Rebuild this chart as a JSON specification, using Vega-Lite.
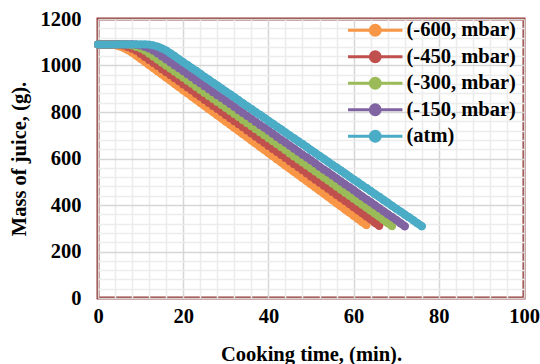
{
"$schema": "https://vega.github.io/schema/vega-lite/v6.json",
"width": 426, "height": 279,
"autosize": {"type": "none"},
"padding": {"left": 98, "top": 19, "right": 16, "bottom": 66},
"background": "white",
"config": {
  "font": "Liberation Serif",
  "view": {"stroke": "#953735", "strokeWidth": 3},
  "axis": {"labelFont": "Liberation Serif", "labelFontSize": 20.5, "labelFontWeight": "bold", "labelColor": "#000", "titleFont": "Liberation Serif", "titleFontSize": 20.5, "titleFontWeight": "bold", "titleColor": "#000", "ticks": false, "domain": false, "labelOverlap": false, "labelBound": false, "labelFlush": false},
  "legend": {"labelFont": "Liberation Serif", "labelFontSize": 20.5, "labelFontWeight": "bold", "labelColor": "#000"}
},
"datasets": {"d": [
{"s":"(-600, mbar)","t":0,"m":1090},{"s":"(-600, mbar)","t":1,"m":1090},{"s":"(-600, mbar)","t":2,"m":1090},{"s":"(-600, mbar)","t":3,"m":1090},{"s":"(-600, mbar)","t":4,"m":1088},{"s":"(-600, mbar)","t":5,"m":1083},{"s":"(-600, mbar)","t":6,"m":1076},{"s":"(-600, mbar)","t":7,"m":1067},{"s":"(-600, mbar)","t":8,"m":1056},{"s":"(-600, mbar)","t":9,"m":1043},{"s":"(-600, mbar)","t":10,"m":1029},{"s":"(-600, mbar)","t":11,"m":1016},{"s":"(-600, mbar)","t":12,"m":1002},{"s":"(-600, mbar)","t":13,"m":989},{"s":"(-600, mbar)","t":14,"m":975},{"s":"(-600, mbar)","t":15,"m":962},{"s":"(-600, mbar)","t":16,"m":948},{"s":"(-600, mbar)","t":17,"m":935},{"s":"(-600, mbar)","t":18,"m":921},{"s":"(-600, mbar)","t":19,"m":908},{"s":"(-600, mbar)","t":20,"m":894},{"s":"(-600, mbar)","t":21,"m":881},{"s":"(-600, mbar)","t":22,"m":867},{"s":"(-600, mbar)","t":23,"m":854},{"s":"(-600, mbar)","t":24,"m":840},{"s":"(-600, mbar)","t":25,"m":827},{"s":"(-600, mbar)","t":26,"m":813},{"s":"(-600, mbar)","t":27,"m":800},{"s":"(-600, mbar)","t":28,"m":786},{"s":"(-600, mbar)","t":29,"m":773},{"s":"(-600, mbar)","t":30,"m":759},{"s":"(-600, mbar)","t":31,"m":746},{"s":"(-600, mbar)","t":32,"m":732},{"s":"(-600, mbar)","t":33,"m":719},{"s":"(-600, mbar)","t":34,"m":705},{"s":"(-600, mbar)","t":35,"m":692},{"s":"(-600, mbar)","t":36,"m":678},{"s":"(-600, mbar)","t":37,"m":665},{"s":"(-600, mbar)","t":38,"m":651},{"s":"(-600, mbar)","t":39,"m":638},{"s":"(-600, mbar)","t":40,"m":624},{"s":"(-600, mbar)","t":41,"m":611},{"s":"(-600, mbar)","t":42,"m":597},{"s":"(-600, mbar)","t":43,"m":584},{"s":"(-600, mbar)","t":44,"m":570},{"s":"(-600, mbar)","t":45,"m":557},{"s":"(-600, mbar)","t":46,"m":543},{"s":"(-600, mbar)","t":47,"m":530},{"s":"(-600, mbar)","t":48,"m":516},{"s":"(-600, mbar)","t":49,"m":503},{"s":"(-600, mbar)","t":50,"m":489},{"s":"(-600, mbar)","t":51,"m":476},{"s":"(-600, mbar)","t":52,"m":462},{"s":"(-600, mbar)","t":53,"m":449},{"s":"(-600, mbar)","t":54,"m":435},{"s":"(-600, mbar)","t":55,"m":422},{"s":"(-600, mbar)","t":56,"m":408},{"s":"(-600, mbar)","t":57,"m":395},{"s":"(-600, mbar)","t":58,"m":381},{"s":"(-600, mbar)","t":59,"m":368},{"s":"(-600, mbar)","t":60,"m":354},{"s":"(-600, mbar)","t":61,"m":341},{"s":"(-600, mbar)","t":62,"m":327},{"s":"(-600, mbar)","t":63,"m":314},
{"s":"(-450, mbar)","t":0,"m":1090},{"s":"(-450, mbar)","t":1,"m":1090},{"s":"(-450, mbar)","t":2,"m":1090},{"s":"(-450, mbar)","t":3,"m":1090},{"s":"(-450, mbar)","t":4,"m":1090},{"s":"(-450, mbar)","t":5,"m":1089},{"s":"(-450, mbar)","t":6,"m":1086},{"s":"(-450, mbar)","t":7,"m":1080},{"s":"(-450, mbar)","t":8,"m":1072},{"s":"(-450, mbar)","t":9,"m":1063},{"s":"(-450, mbar)","t":10,"m":1050},{"s":"(-450, mbar)","t":11,"m":1037},{"s":"(-450, mbar)","t":12,"m":1024},{"s":"(-450, mbar)","t":13,"m":1011},{"s":"(-450, mbar)","t":14,"m":998},{"s":"(-450, mbar)","t":15,"m":984},{"s":"(-450, mbar)","t":16,"m":971},{"s":"(-450, mbar)","t":17,"m":958},{"s":"(-450, mbar)","t":18,"m":945},{"s":"(-450, mbar)","t":19,"m":932},{"s":"(-450, mbar)","t":20,"m":918},{"s":"(-450, mbar)","t":21,"m":905},{"s":"(-450, mbar)","t":22,"m":892},{"s":"(-450, mbar)","t":23,"m":879},{"s":"(-450, mbar)","t":24,"m":866},{"s":"(-450, mbar)","t":25,"m":852},{"s":"(-450, mbar)","t":26,"m":839},{"s":"(-450, mbar)","t":27,"m":826},{"s":"(-450, mbar)","t":28,"m":813},{"s":"(-450, mbar)","t":29,"m":800},{"s":"(-450, mbar)","t":30,"m":786},{"s":"(-450, mbar)","t":31,"m":773},{"s":"(-450, mbar)","t":32,"m":760},{"s":"(-450, mbar)","t":33,"m":747},{"s":"(-450, mbar)","t":34,"m":734},{"s":"(-450, mbar)","t":35,"m":720},{"s":"(-450, mbar)","t":36,"m":707},{"s":"(-450, mbar)","t":37,"m":694},{"s":"(-450, mbar)","t":38,"m":681},{"s":"(-450, mbar)","t":39,"m":668},{"s":"(-450, mbar)","t":40,"m":654},{"s":"(-450, mbar)","t":41,"m":641},{"s":"(-450, mbar)","t":42,"m":628},{"s":"(-450, mbar)","t":43,"m":615},{"s":"(-450, mbar)","t":44,"m":602},{"s":"(-450, mbar)","t":45,"m":588},{"s":"(-450, mbar)","t":46,"m":575},{"s":"(-450, mbar)","t":47,"m":562},{"s":"(-450, mbar)","t":48,"m":549},{"s":"(-450, mbar)","t":49,"m":536},{"s":"(-450, mbar)","t":50,"m":522},{"s":"(-450, mbar)","t":51,"m":509},{"s":"(-450, mbar)","t":52,"m":496},{"s":"(-450, mbar)","t":53,"m":483},{"s":"(-450, mbar)","t":54,"m":470},{"s":"(-450, mbar)","t":55,"m":456},{"s":"(-450, mbar)","t":56,"m":443},{"s":"(-450, mbar)","t":57,"m":430},{"s":"(-450, mbar)","t":58,"m":417},{"s":"(-450, mbar)","t":59,"m":404},{"s":"(-450, mbar)","t":60,"m":390},{"s":"(-450, mbar)","t":61,"m":377},{"s":"(-450, mbar)","t":62,"m":364},{"s":"(-450, mbar)","t":63,"m":351},{"s":"(-450, mbar)","t":64,"m":338},{"s":"(-450, mbar)","t":65,"m":324},{"s":"(-450, mbar)","t":66,"m":311},
{"s":"(-300, mbar)","t":0,"m":1090},{"s":"(-300, mbar)","t":1,"m":1090},{"s":"(-300, mbar)","t":2,"m":1090},{"s":"(-300, mbar)","t":3,"m":1090},{"s":"(-300, mbar)","t":4,"m":1090},{"s":"(-300, mbar)","t":5,"m":1090},{"s":"(-300, mbar)","t":6,"m":1090},{"s":"(-300, mbar)","t":7,"m":1089},{"s":"(-300, mbar)","t":8,"m":1086},{"s":"(-300, mbar)","t":9,"m":1080},{"s":"(-300, mbar)","t":10,"m":1073},{"s":"(-300, mbar)","t":11,"m":1063},{"s":"(-300, mbar)","t":12,"m":1051},{"s":"(-300, mbar)","t":13,"m":1038},{"s":"(-300, mbar)","t":14,"m":1025},{"s":"(-300, mbar)","t":15,"m":1012},{"s":"(-300, mbar)","t":16,"m":999},{"s":"(-300, mbar)","t":17,"m":986},{"s":"(-300, mbar)","t":18,"m":973},{"s":"(-300, mbar)","t":19,"m":960},{"s":"(-300, mbar)","t":20,"m":947},{"s":"(-300, mbar)","t":21,"m":934},{"s":"(-300, mbar)","t":22,"m":921},{"s":"(-300, mbar)","t":23,"m":908},{"s":"(-300, mbar)","t":24,"m":895},{"s":"(-300, mbar)","t":25,"m":882},{"s":"(-300, mbar)","t":26,"m":869},{"s":"(-300, mbar)","t":27,"m":856},{"s":"(-300, mbar)","t":28,"m":843},{"s":"(-300, mbar)","t":29,"m":830},{"s":"(-300, mbar)","t":30,"m":817},{"s":"(-300, mbar)","t":31,"m":804},{"s":"(-300, mbar)","t":32,"m":791},{"s":"(-300, mbar)","t":33,"m":778},{"s":"(-300, mbar)","t":34,"m":765},{"s":"(-300, mbar)","t":35,"m":752},{"s":"(-300, mbar)","t":36,"m":739},{"s":"(-300, mbar)","t":37,"m":726},{"s":"(-300, mbar)","t":38,"m":713},{"s":"(-300, mbar)","t":39,"m":700},{"s":"(-300, mbar)","t":40,"m":687},{"s":"(-300, mbar)","t":41,"m":674},{"s":"(-300, mbar)","t":42,"m":661},{"s":"(-300, mbar)","t":43,"m":648},{"s":"(-300, mbar)","t":44,"m":635},{"s":"(-300, mbar)","t":45,"m":622},{"s":"(-300, mbar)","t":46,"m":609},{"s":"(-300, mbar)","t":47,"m":596},{"s":"(-300, mbar)","t":48,"m":583},{"s":"(-300, mbar)","t":49,"m":570},{"s":"(-300, mbar)","t":50,"m":557},{"s":"(-300, mbar)","t":51,"m":544},{"s":"(-300, mbar)","t":52,"m":531},{"s":"(-300, mbar)","t":53,"m":518},{"s":"(-300, mbar)","t":54,"m":505},{"s":"(-300, mbar)","t":55,"m":492},{"s":"(-300, mbar)","t":56,"m":479},{"s":"(-300, mbar)","t":57,"m":466},{"s":"(-300, mbar)","t":58,"m":453},{"s":"(-300, mbar)","t":59,"m":440},{"s":"(-300, mbar)","t":60,"m":427},{"s":"(-300, mbar)","t":61,"m":414},{"s":"(-300, mbar)","t":62,"m":401},{"s":"(-300, mbar)","t":63,"m":388},{"s":"(-300, mbar)","t":64,"m":375},{"s":"(-300, mbar)","t":65,"m":362},{"s":"(-300, mbar)","t":66,"m":349},{"s":"(-300, mbar)","t":67,"m":336},{"s":"(-300, mbar)","t":68,"m":323},{"s":"(-300, mbar)","t":69,"m":310},
{"s":"(-150, mbar)","t":0,"m":1090},{"s":"(-150, mbar)","t":1,"m":1090},{"s":"(-150, mbar)","t":2,"m":1090},{"s":"(-150, mbar)","t":3,"m":1090},{"s":"(-150, mbar)","t":4,"m":1090},{"s":"(-150, mbar)","t":5,"m":1090},{"s":"(-150, mbar)","t":6,"m":1090},{"s":"(-150, mbar)","t":7,"m":1090},{"s":"(-150, mbar)","t":8,"m":1090},{"s":"(-150, mbar)","t":9,"m":1089},{"s":"(-150, mbar)","t":10,"m":1086},{"s":"(-150, mbar)","t":11,"m":1080},{"s":"(-150, mbar)","t":12,"m":1073},{"s":"(-150, mbar)","t":13,"m":1063},{"s":"(-150, mbar)","t":14,"m":1052},{"s":"(-150, mbar)","t":15,"m":1039},{"s":"(-150, mbar)","t":16,"m":1026},{"s":"(-150, mbar)","t":17,"m":1013},{"s":"(-150, mbar)","t":18,"m":1000},{"s":"(-150, mbar)","t":19,"m":988},{"s":"(-150, mbar)","t":20,"m":975},{"s":"(-150, mbar)","t":21,"m":962},{"s":"(-150, mbar)","t":22,"m":949},{"s":"(-150, mbar)","t":23,"m":936},{"s":"(-150, mbar)","t":24,"m":924},{"s":"(-150, mbar)","t":25,"m":911},{"s":"(-150, mbar)","t":26,"m":898},{"s":"(-150, mbar)","t":27,"m":885},{"s":"(-150, mbar)","t":28,"m":872},{"s":"(-150, mbar)","t":29,"m":860},{"s":"(-150, mbar)","t":30,"m":847},{"s":"(-150, mbar)","t":31,"m":834},{"s":"(-150, mbar)","t":32,"m":821},{"s":"(-150, mbar)","t":33,"m":808},{"s":"(-150, mbar)","t":34,"m":796},{"s":"(-150, mbar)","t":35,"m":783},{"s":"(-150, mbar)","t":36,"m":770},{"s":"(-150, mbar)","t":37,"m":757},{"s":"(-150, mbar)","t":38,"m":744},{"s":"(-150, mbar)","t":39,"m":732},{"s":"(-150, mbar)","t":40,"m":719},{"s":"(-150, mbar)","t":41,"m":706},{"s":"(-150, mbar)","t":42,"m":693},{"s":"(-150, mbar)","t":43,"m":680},{"s":"(-150, mbar)","t":44,"m":668},{"s":"(-150, mbar)","t":45,"m":655},{"s":"(-150, mbar)","t":46,"m":642},{"s":"(-150, mbar)","t":47,"m":629},{"s":"(-150, mbar)","t":48,"m":616},{"s":"(-150, mbar)","t":49,"m":604},{"s":"(-150, mbar)","t":50,"m":591},{"s":"(-150, mbar)","t":51,"m":578},{"s":"(-150, mbar)","t":52,"m":565},{"s":"(-150, mbar)","t":53,"m":552},{"s":"(-150, mbar)","t":54,"m":540},{"s":"(-150, mbar)","t":55,"m":527},{"s":"(-150, mbar)","t":56,"m":514},{"s":"(-150, mbar)","t":57,"m":501},{"s":"(-150, mbar)","t":58,"m":488},{"s":"(-150, mbar)","t":59,"m":476},{"s":"(-150, mbar)","t":60,"m":463},{"s":"(-150, mbar)","t":61,"m":450},{"s":"(-150, mbar)","t":62,"m":437},{"s":"(-150, mbar)","t":63,"m":424},{"s":"(-150, mbar)","t":64,"m":412},{"s":"(-150, mbar)","t":65,"m":399},{"s":"(-150, mbar)","t":66,"m":386},{"s":"(-150, mbar)","t":67,"m":373},{"s":"(-150, mbar)","t":68,"m":360},{"s":"(-150, mbar)","t":69,"m":348},{"s":"(-150, mbar)","t":70,"m":335},{"s":"(-150, mbar)","t":71,"m":322},{"s":"(-150, mbar)","t":72,"m":309},
{"s":"(atm)","t":0,"m":1090},{"s":"(atm)","t":1,"m":1090},{"s":"(atm)","t":2,"m":1090},{"s":"(atm)","t":3,"m":1090},{"s":"(atm)","t":4,"m":1090},{"s":"(atm)","t":5,"m":1090},{"s":"(atm)","t":6,"m":1090},{"s":"(atm)","t":7,"m":1090},{"s":"(atm)","t":8,"m":1090},{"s":"(atm)","t":9,"m":1090},{"s":"(atm)","t":10,"m":1090},{"s":"(atm)","t":11,"m":1090},{"s":"(atm)","t":12,"m":1089},{"s":"(atm)","t":13,"m":1086},{"s":"(atm)","t":14,"m":1081},{"s":"(atm)","t":15,"m":1073},{"s":"(atm)","t":16,"m":1064},{"s":"(atm)","t":17,"m":1052},{"s":"(atm)","t":18,"m":1040},{"s":"(atm)","t":19,"m":1027},{"s":"(atm)","t":20,"m":1014},{"s":"(atm)","t":21,"m":1002},{"s":"(atm)","t":22,"m":989},{"s":"(atm)","t":23,"m":977},{"s":"(atm)","t":24,"m":964},{"s":"(atm)","t":25,"m":951},{"s":"(atm)","t":26,"m":939},{"s":"(atm)","t":27,"m":926},{"s":"(atm)","t":28,"m":914},{"s":"(atm)","t":29,"m":901},{"s":"(atm)","t":30,"m":888},{"s":"(atm)","t":31,"m":876},{"s":"(atm)","t":32,"m":863},{"s":"(atm)","t":33,"m":851},{"s":"(atm)","t":34,"m":838},{"s":"(atm)","t":35,"m":825},{"s":"(atm)","t":36,"m":813},{"s":"(atm)","t":37,"m":800},{"s":"(atm)","t":38,"m":788},{"s":"(atm)","t":39,"m":775},{"s":"(atm)","t":40,"m":762},{"s":"(atm)","t":41,"m":750},{"s":"(atm)","t":42,"m":737},{"s":"(atm)","t":43,"m":725},{"s":"(atm)","t":44,"m":712},{"s":"(atm)","t":45,"m":699},{"s":"(atm)","t":46,"m":687},{"s":"(atm)","t":47,"m":674},{"s":"(atm)","t":48,"m":662},{"s":"(atm)","t":49,"m":649},{"s":"(atm)","t":50,"m":636},{"s":"(atm)","t":51,"m":624},{"s":"(atm)","t":52,"m":611},{"s":"(atm)","t":53,"m":599},{"s":"(atm)","t":54,"m":586},{"s":"(atm)","t":55,"m":573},{"s":"(atm)","t":56,"m":561},{"s":"(atm)","t":57,"m":548},{"s":"(atm)","t":58,"m":536},{"s":"(atm)","t":59,"m":523},{"s":"(atm)","t":60,"m":510},{"s":"(atm)","t":61,"m":498},{"s":"(atm)","t":62,"m":485},{"s":"(atm)","t":63,"m":473},{"s":"(atm)","t":64,"m":460},{"s":"(atm)","t":65,"m":447},{"s":"(atm)","t":66,"m":435},{"s":"(atm)","t":67,"m":422},{"s":"(atm)","t":68,"m":410},{"s":"(atm)","t":69,"m":397},{"s":"(atm)","t":70,"m":384},{"s":"(atm)","t":71,"m":372},{"s":"(atm)","t":72,"m":359},{"s":"(atm)","t":73,"m":347},{"s":"(atm)","t":74,"m":334},{"s":"(atm)","t":75,"m":321},{"s":"(atm)","t":76,"m":309}
]},
"data": {"name": "d"},
"resolve": {"axis": {"x": "independent", "y": "independent"}},
"layer": [
  {
    "mark": {"type": "line", "strokeWidth": 8, "strokeCap": "round", "strokeJoin": "round"},
    "encoding": {
      "x": {"field": "t", "type": "quantitative", "scale": {"domain": [0, 100], "nice": false},
            "axis": {"orient": "top", "values": [4,8,12,16,24,28,32,36,44,48,52,56,64,68,72,76,84,88,92,96], "labels": false, "grid": true, "gridColor": "#ececec", "gridWidth": 1.5, "title": null}},
      "y": {"field": "m", "type": "quantitative", "scale": {"domain": [0, 1200], "nice": false},
            "axis": {"orient": "right", "values": [40,80,120,160,240,280,320,360,440,480,520,560,640,680,720,760,840,880,920,960,1040,1080,1120,1160], "labels": false, "grid": true, "gridColor": "#ececec", "gridWidth": 1.5, "title": null}},
      "detail": {"field": "s"},
      "color": {"field": "s", "type": "nominal",
        "scale": {"domain": ["(-600, mbar)", "(-450, mbar)", "(-300, mbar)", "(-150, mbar)", "(atm)"], "range": ["#F79646", "#C0504D", "#9BBB59", "#8064A2", "#4BACC6"]},
        "legend": {"orient": "none", "legendX": 267, "legendY": 1, "title": null, "padding": 0,
          "symbolType": "M-3.4,0L3.4,0M0.62,0A0.62,0.62,0,1,1,-0.62,0A0.62,0.62,0,1,1,0.62,0Z",
          "symbolSize": 256, "symbolStrokeWidth": 3,
          "labelFont": "Liberation Serif", "labelFontSize": 20.5, "labelFontWeight": "bold", "labelColor": "#000",
          "labelOffset": 21, "rowPadding": 3.5,
          "encode": {"symbols": {"update": {"stroke": {"field": "value", "scale": "color"}, "fill": {"field": "value", "scale": "color"}, "strokeWidth": {"value": 3}, "opacity": {"value": 1}}}}}
      }
    }
  },
  {
    "mark": {"type": "circle", "size": 64, "opacity": 1},
    "encoding": {
      "x": {"field": "t", "type": "quantitative", "scale": {"domain": [0, 100], "nice": false},
            "axis": {"values": [0,20,40,60,80,100], "format": "d", "grid": true, "gridColor": "#d6d6d6", "gridWidth": 1.5, "labelPadding": 8, "title": "Cooking time, (min).", "titlePadding": 18}},
      "y": {"field": "m", "type": "quantitative", "scale": {"domain": [0, 1200], "nice": false},
            "axis": {"values": [0,200,400,600,800,1000,1200], "format": "d", "grid": true, "gridColor": "#d6d6d6", "gridWidth": 1.5, "labelPadding": 17, "title": "Mass of juice, (g).", "titlePadding": 11}},
      "color": {"field": "s", "type": "nominal",
        "scale": {"domain": ["(-600, mbar)", "(-450, mbar)", "(-300, mbar)", "(-150, mbar)", "(atm)"], "range": ["#F79646", "#C0504D", "#9BBB59", "#8064A2", "#4BACC6"]},
        "legend": {"orient": "none", "legendX": 267, "legendY": 1, "title": null, "padding": 0,
          "symbolType": "M-3.4,0L3.4,0M0.62,0A0.62,0.62,0,1,1,-0.62,0A0.62,0.62,0,1,1,0.62,0Z",
          "symbolSize": 256, "symbolStrokeWidth": 3,
          "labelFont": "Liberation Serif", "labelFontSize": 20.5, "labelFontWeight": "bold", "labelColor": "#000",
          "labelOffset": 21, "rowPadding": 3.5,
          "encode": {"symbols": {"update": {"stroke": {"field": "value", "scale": "color"}, "fill": {"field": "value", "scale": "color"}, "strokeWidth": {"value": 3}, "opacity": {"value": 1}}}}}
      }
    }
  }
]
}
